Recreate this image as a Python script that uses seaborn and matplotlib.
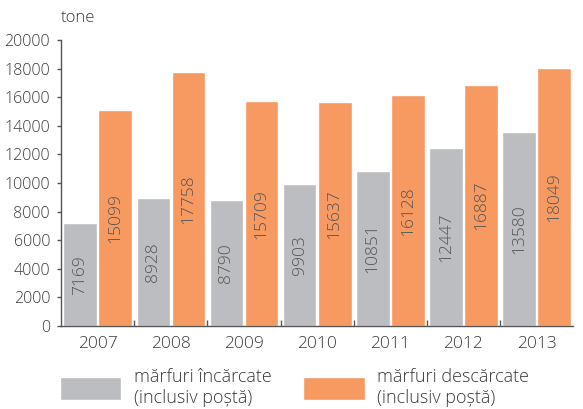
import matplotlib.pyplot as plt
import numpy as np
import pandas as pd
import seaborn as sns

years = ["2007", "2008", "2009", "2010", "2011", "2012", "2013"]
loaded = [7169, 8928, 8790, 9903, 10851, 12447, 13580]
unloaded = [15099, 17758, 15709, 15637, 16128, 16887, 18049]
series_names = ["mărfuri încărcate\n(inclusiv poștă)", "mărfuri descărcate\n(inclusiv poștă)"]
colors = ["#BCBDC0", "#F69A62"]

sns.set_theme(style="white")
plt.rcParams["font.family"] = ["Open Sans", "DejaVu Sans"]
text_color = "#3a3a3a"

df = pd.DataFrame({
    "year": years * 2,
    "value": loaded + unloaded,
    "series": [series_names[0]] * len(years) + [series_names[1]] * len(years),
})

fig, ax = plt.subplots(figsize=(5.83, 4.09), dpi=100)
fig.subplots_adjust(left=0.105, right=0.983, top=0.902, bottom=0.203)

sns.barplot(data=df, x="year", y="value", hue="series", palette=colors,
            width=0.96, gap=0.04, ax=ax, legend=True, saturation=1)

for cont in ax.containers:
    ax.bar_label(cont, labels=[f"{v:.0f}" for v in cont.datavalues], label_type="center",
                 rotation=90, fontsize=12.5, color="#555555", fontweight="light")

ax.set_xlim(-0.5, 6.5)
ax.set_ylim(0, 20000)
ax.set_yticks(np.arange(0, 20001, 2000))
ax.set_xlabel("")
ax.set_ylabel("")
ax.set_xticks(np.arange(0.5, 6, 1), minor=True)
ax.tick_params(axis="x", which="major", length=0, pad=7, labelsize=12.5, labelcolor=text_color)
ax.tick_params(axis="x", which="minor", direction="in", length=4, width=1, color="#555555", bottom=True)
ax.tick_params(axis="y", direction="out", length=3, width=1, color="#555555", left=True,
               labelsize=11.5, labelcolor=text_color, pad=5)
for lbl in ax.get_xticklabels() + ax.get_yticklabels():
    lbl.set_fontweight("light")
sns.despine(ax=ax)
for side in ["left", "bottom"]:
    ax.spines[side].set_color("#555555")
    ax.spines[side].set_linewidth(1)

ax.text(0.0, 1.05, "tone", transform=ax.transAxes, fontsize=12, fontweight="light",
        color=text_color, ha="left", va="bottom")

handles, labels = ax.get_legend_handles_labels()
ax.legend_.remove()
fig.legend(handles, labels, loc="lower left", bbox_to_anchor=(0.075, -0.035), ncol=2,
           frameon=False, handlelength=3.4, handleheight=1.6, handletextpad=0.7,
           columnspacing=1.75, labelcolor=text_color, labelspacing=0.2,
           prop={"size": 13, "weight": "light"})

plt.savefig("out.png", dpi=100)
